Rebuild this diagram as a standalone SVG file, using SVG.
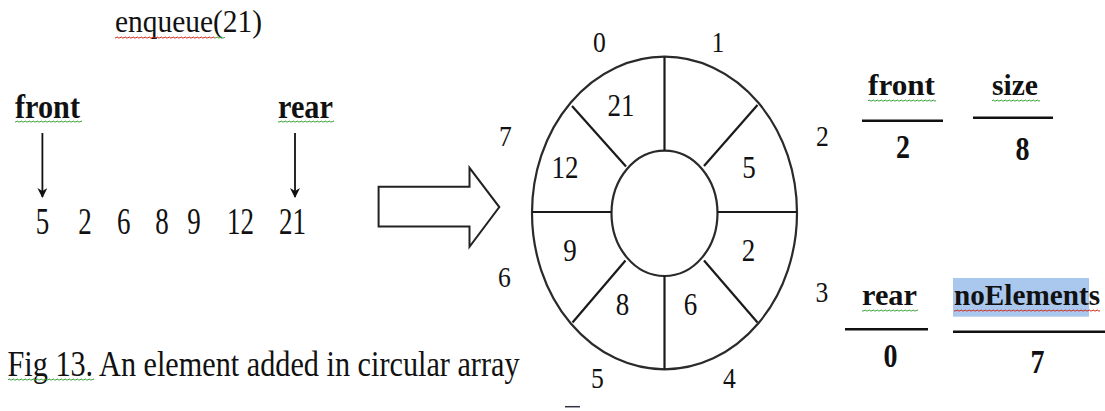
<svg xmlns="http://www.w3.org/2000/svg" width="1105" height="411" viewBox="0 0 1105 411">
<style>
text{font-family:'Liberation Serif','Times New Roman',Times,serif;fill:#111}
.b{font-weight:bold}
.ring{fill:none;stroke:#2a2a2a;stroke-width:2.2}
.div{stroke:#1a1a1a;stroke-width:2.2}
.bar{stroke:#111;stroke-width:2.6}
.ptr{stroke:#111;stroke-width:1.8;fill:none}
</style>
<defs>
<pattern id="wr" width="4" height="3" patternUnits="userSpaceOnUse"><path d="M0 2 Q1 0 2 1.5 T4 1.5" fill="none" stroke="#d02a1e" stroke-width="1"/></pattern>
<pattern id="wg" width="4" height="3" patternUnits="userSpaceOnUse"><path d="M0 2 Q1 0 2 1.5 T4 1.5" fill="none" stroke="#3aa33a" stroke-width="1"/></pattern>
<marker id="ah" markerWidth="10" markerHeight="10" refX="9" refY="5" orient="auto" markerUnits="userSpaceOnUse" viewBox="0 0 10 10"><path d="M0 0 L10 5 L0 10 L3 5 Z" fill="#111"/></marker>
</defs>

<g id="title">
<text x="115" y="32" font-family="Liberation Serif, serif" font-size="32" textLength="147" lengthAdjust="spacingAndGlyphs">enqueue(21)</text>
<rect x="115" y="36" width="100" height="3" fill="url(#wr)"/>
<rect x="215" y="36" width="10" height="3" fill="url(#wg)"/>
</g>

<g id="front-pointer-label">
<text class="b" x="15" y="118" font-family="Liberation Serif, serif" font-size="34" textLength="65" lengthAdjust="spacingAndGlyphs">front</text>
<rect x="15" y="120" width="67" height="3" fill="url(#wg)"/>
</g>
<g id="rear-pointer-label">
<text class="b" x="278" y="118" font-family="Liberation Serif, serif" font-size="34" textLength="55" lengthAdjust="spacingAndGlyphs">rear</text>
<rect x="278" y="120" width="56" height="3" fill="url(#wg)"/>
</g>

<g id="sequence" font-family="Liberation Serif, serif" font-size="37" text-anchor="middle">
<text x="42.4" y="234" textLength="13.5" lengthAdjust="spacingAndGlyphs">5</text>
<text x="85" y="234" textLength="13.5" lengthAdjust="spacingAndGlyphs">2</text>
<text x="123.8" y="234" textLength="13.5" lengthAdjust="spacingAndGlyphs">6</text>
<text x="162" y="234" textLength="13.5" lengthAdjust="spacingAndGlyphs">8</text>
<text x="194" y="234" textLength="13.5" lengthAdjust="spacingAndGlyphs">9</text>
<text x="240.5" y="234" textLength="27" lengthAdjust="spacingAndGlyphs">12</text>
<text x="292.5" y="234" textLength="27" lengthAdjust="spacingAndGlyphs">21</text>
</g>

<g id="connectors">
<line class="ptr" x1="42.4" y1="133" x2="42.4" y2="197" marker-end="url(#ah)"/>
<line class="ptr" x1="295" y1="133" x2="295" y2="197" marker-end="url(#ah)"/>
<path id="transform-arrow" d="M378.6 186.8 L469.5 186.8 L469.5 167.8 L499.3 207.1 L469.5 246.8 L469.5 226.4 L378.6 226.4 Z" fill="#fff" stroke="#222" stroke-width="2"/>
</g>

<g id="circular-array">
<ellipse class="ring" cx="664.5" cy="213" rx="132.5" ry="156.3"/>
<ellipse class="ring" cx="664.5" cy="213.3" rx="53" ry="62.7"/>
<line class="div" x1="664.5" y1="57" x2="664.5" y2="151"/>
<line class="div" x1="664.5" y1="276" x2="664.5" y2="369"/>
<line class="div" x1="532" y1="212" x2="612" y2="212"/>
<line class="div" x1="717" y1="212" x2="797" y2="212"/>
<line class="div" x1="572" y1="106" x2="626" y2="166.5"/>
<line class="div" x1="757.5" y1="105" x2="704" y2="166"/>
<line class="div" x1="704" y1="260.5" x2="757.5" y2="322.5"/>
<line class="div" x1="625.5" y1="260.5" x2="572.5" y2="322.5"/>
</g>

<g id="cells" font-family="Liberation Serif, serif" font-size="32" text-anchor="middle">
<text x="621" y="116" textLength="27" lengthAdjust="spacingAndGlyphs">21</text>
<text x="565" y="178" textLength="27" lengthAdjust="spacingAndGlyphs">12</text>
<text x="749" y="178" textLength="13.5" lengthAdjust="spacingAndGlyphs">5</text>
<text x="570" y="261" textLength="13.5" lengthAdjust="spacingAndGlyphs">9</text>
<text x="748.5" y="261" textLength="13.5" lengthAdjust="spacingAndGlyphs">2</text>
<text x="622.5" y="315" textLength="13.5" lengthAdjust="spacingAndGlyphs">8</text>
<text x="690.5" y="315" textLength="13.5" lengthAdjust="spacingAndGlyphs">6</text>
</g>

<g id="indices" font-family="Liberation Serif, serif" font-size="30" text-anchor="middle">
<text x="599.5" y="52" textLength="12.8" lengthAdjust="spacingAndGlyphs">0</text>
<text x="718" y="52" textLength="12.8" lengthAdjust="spacingAndGlyphs">1</text>
<text x="822.5" y="146" textLength="12.8" lengthAdjust="spacingAndGlyphs">2</text>
<text x="822" y="302" textLength="12.8" lengthAdjust="spacingAndGlyphs">3</text>
<text x="729.5" y="388" textLength="12.8" lengthAdjust="spacingAndGlyphs">4</text>
<text x="597.5" y="388" textLength="12.8" lengthAdjust="spacingAndGlyphs">5</text>
<text x="504.5" y="287" textLength="12.8" lengthAdjust="spacingAndGlyphs">6</text>
<text x="505.5" y="146" textLength="12.8" lengthAdjust="spacingAndGlyphs">7</text>
</g>

<g id="front-var" font-family="Liberation Serif, serif">
<text class="b" x="868" y="95" font-size="30" textLength="67" lengthAdjust="spacingAndGlyphs">front</text>
<rect x="868" y="99" width="68" height="3" fill="url(#wg)"/>
<line class="bar" x1="862" y1="120.7" x2="943" y2="120.7"/>
<text class="b" x="903" y="158" font-size="34" text-anchor="middle" textLength="14" lengthAdjust="spacingAndGlyphs">2</text>
</g>

<g id="size-var" font-family="Liberation Serif, serif">
<text class="b" x="992" y="95" font-size="30" textLength="46" lengthAdjust="spacingAndGlyphs">size</text>
<rect x="992" y="99" width="48" height="3" fill="url(#wg)"/>
<line class="bar" x1="973" y1="117.7" x2="1053" y2="117.7"/>
<text class="b" x="1022.5" y="160" font-size="34" text-anchor="middle" textLength="14" lengthAdjust="spacingAndGlyphs">8</text>
</g>

<g id="rear-var" font-family="Liberation Serif, serif">
<text class="b" x="862" y="305" font-size="30" textLength="55" lengthAdjust="spacingAndGlyphs">rear</text>
<rect x="862" y="309" width="56" height="3" fill="url(#wg)"/>
<line class="bar" x1="845" y1="329.3" x2="928" y2="329.3"/>
<text class="b" x="890.5" y="366.5" font-size="34" text-anchor="middle" textLength="14" lengthAdjust="spacingAndGlyphs">0</text>
</g>

<g id="noElements-var" font-family="Liberation Serif, serif">
<rect x="953" y="278" width="136" height="38.7" fill="#aac8ee"/>
<text class="b" x="954" y="305" font-size="30" textLength="146" lengthAdjust="spacingAndGlyphs">noElements</text>
<rect x="954" y="309" width="146" height="3" fill="url(#wr)"/>
<line class="bar" x1="953" y1="331.7" x2="1105" y2="331.7"/>
<text class="b" x="1037.5" y="373" font-size="34" text-anchor="middle" textLength="14" lengthAdjust="spacingAndGlyphs">7</text>
</g>

<g id="caption">
<text x="0" y="0" transform="translate(7.5 375.5) scale(0.85 1)" font-family="Liberation Serif, serif" font-size="35" textLength="602.4" lengthAdjust="spacingAndGlyphs">Fig 13. An element added in circular array</text>
<rect x="8" y="378" width="86" height="3" fill="url(#wg)"/>
</g>

<line x1="565" y1="406.7" x2="580" y2="406.7" stroke="#334" stroke-width="1.5"/>
</svg>
